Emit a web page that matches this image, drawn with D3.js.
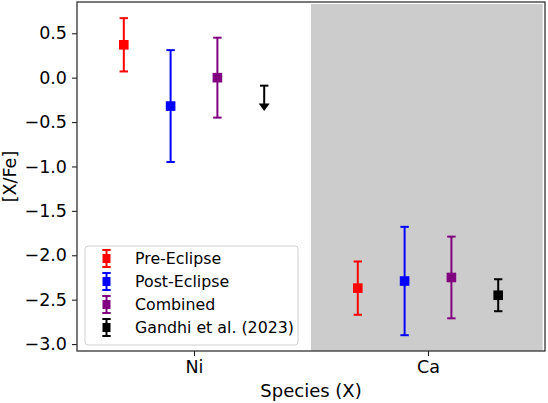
<!DOCTYPE html>
<html lang="en">
<head>
  <meta charset="UTF-8">
  <title>[X/Fe] by species</title>
  <style>
    body { margin: 0; background: #fff; }
    text { font-family: "DejaVu Sans", sans-serif; fill: #000; }
  </style>
</head>
<body>
<div id="chart"></div>

<script src="https://cdn.jsdelivr.net/npm/d3@7/dist/d3.min.js"></script>
<script>
  // data
  const species = ["Ni", "Ca"];
  const seriesNames = ["Pre-Eclipse", "Post-Eclipse", "Combined", "Gandhi et al. (2023)"];
  const seriesColors = ["#ff0000", "#0000ff", "#800080", "#000000"];

  const preEclipse = [0.37, -2.37];
  const preEclipseErr = [0.30, 0.30];
  const postEclipse = [-0.32, -2.29];
  const postEclipseErr = [0.63, 0.61];
  const combined = [0.00, -2.25];
  const combinedErr = [0.45, 0.46];
  const gandhi = [-0.09, -2.45];      // Ni is an upper limit
  const gandhiErr = [null, 0.18];
  const gandhiUpperLimit = [true, false];

  const yTicks = [0.5, 0.0, -0.5, -1.0, -1.5, -2.0, -2.5, -3.0];

  const margin = {top: 2, right: 3, bottom: 52, left: 77},
    width = 548 - margin.left - margin.right,
    height = 403 - margin.top - margin.bottom;

  const svg = d3.select("#chart").append("svg")
    .attr("width", 548)
    .attr("height", 403)
    .append("g")
    .attr("transform", "translate(" + margin.left + "," + margin.top + ")");

  const xScale = d3.scaleLinear().domain([-0.5, 1.5]).range([0, width]);
  const yScale = d3.scaleLinear().domain([-3.078, 0.852]).range([height, 0]);

  // shaded Ca half
  svg.append("rect")
    .attr("x", xScale(0.5))
    .attr("y", 2)
    .attr("width", xScale(1.49) - xScale(0.5))
    .attr("height", height - 2)
    .attr("fill", "#cccccc");

  const offsets = [-0.3, -0.1, 0.1, 0.3];
  const values = [preEclipse, postEclipse, combined, gandhi];
  const errs = [preEclipseErr, postEclipseErr, combinedErr, gandhiErr];

  const capHalf = 4.2, markerHalf = 4.8;

  values.forEach(function(vals, s) {
    const color = seriesColors[s];
    vals.forEach(function(v, i) {
      const cx = xScale(i + offsets[s]);
      const g = svg.append("g");
      if (s === 3 && gandhiUpperLimit[i]) {
        const yTop = yScale(v), yTip = yScale(v - 0.285);
        g.append("line").attr("x1", cx).attr("x2", cx)
          .attr("y1", yTop).attr("y2", yTip - 6)
          .attr("stroke", color).attr("stroke-width", 2);
        g.append("line").attr("x1", cx - capHalf).attr("x2", cx + capHalf)
          .attr("y1", yTop).attr("y2", yTop)
          .attr("stroke", color).attr("stroke-width", 2);
        g.append("path")
          .attr("d", "M" + (cx - 5.5) + "," + (yTip - 7.5) + "L" + (cx + 5.5) + "," + (yTip - 7.5) + "L" + cx + "," + yTip + "Z")
          .attr("fill", color);
        return;
      }
      const e = errs[s][i];
      const y0 = yScale(v + e), y1 = yScale(v - e);
      g.append("line").attr("x1", cx).attr("x2", cx).attr("y1", y0).attr("y2", y1)
        .attr("stroke", color).attr("stroke-width", 2);
      [y0, y1].forEach(function(yy) {
        g.append("line").attr("x1", cx - capHalf).attr("x2", cx + capHalf)
          .attr("y1", yy).attr("y2", yy)
          .attr("stroke", color).attr("stroke-width", 2);
      });
      g.append("rect")
        .attr("x", cx - markerHalf).attr("y", yScale(v) - markerHalf)
        .attr("width", markerHalf * 2).attr("height", markerHalf * 2)
        .attr("fill", color);
    });
  });

  // axes
  const yAxis = svg.append("g")
    .call(d3.axisLeft(yScale).tickValues(yTicks).tickFormat(d3.format(".1f")).tickSize(5).tickPadding(5));
  const xAxis = svg.append("g")
    .attr("transform", "translate(0," + height + ")")
    .call(d3.axisBottom(xScale).tickValues([0, 1]).tickFormat(function(d) { return species[d]; }).tickSize(5).tickPadding(5));

  [yAxis, xAxis].forEach(function(ax) {
    ax.select(".domain").remove();
    ax.selectAll(".tick line").attr("stroke", "#222").attr("stroke-width", 1.1);
    ax.selectAll(".tick text").attr("font-size", "17.5px").attr("font-family", "DejaVu Sans");
  });

  // frame
  svg.append("rect")
    .attr("x", 0).attr("y", 0)
    .attr("width", width).attr("height", height)
    .attr("fill", "none")
    .attr("stroke", "#333")
    .attr("stroke-width", 1.3);

  // axis labels
  svg.append("text")
    .attr("transform", "translate(" + (16 - margin.left) + "," + (height / 2) + ") rotate(-90)")
    .attr("text-anchor", "middle")
    .attr("font-size", "17.5px")
    .text("[X/Fe]");

  svg.append("text")
    .attr("x", width / 2)
    .attr("y", height + 46)
    .attr("text-anchor", "middle")
    .attr("font-size", "18px")
    .text("Species (X)");

  // legend
  const legend = svg.append("g").attr("transform", "translate(" + (85 - margin.left) + "," + (246 - margin.top) + ")");
  legend.append("rect")
    .attr("width", 213).attr("height", 99)
    .attr("rx", 3).attr("ry", 3)
    .attr("fill", "#fff").attr("fill-opacity", 0.8)
    .attr("stroke", "#d0d0d0").attr("stroke-width", 1);

  seriesNames.forEach(function(name, s) {
    const cy = 12.5 + s * 23;
    const item = legend.append("g").attr("transform", "translate(21.5," + cy + ")");
    item.append("line").attr("x1", 0).attr("x2", 0).attr("y1", -8.5).attr("y2", 8.5)
      .attr("stroke", seriesColors[s]).attr("stroke-width", 2);
    [-8.5, 8.5].forEach(function(yy) {
      item.append("line").attr("x1", -capHalf).attr("x2", capHalf).attr("y1", yy).attr("y2", yy)
        .attr("stroke", seriesColors[s]).attr("stroke-width", 2);
    });
    item.append("rect").attr("x", -4).attr("y", -4.5).attr("width", 8).attr("height", 9)
      .attr("fill", seriesColors[s]);
    legend.append("text")
      .attr("x", 50).attr("y", cy + 5.5)
      .attr("font-size", "15.8px")
      .text(name);
  });
</script>
</body>
</html>
